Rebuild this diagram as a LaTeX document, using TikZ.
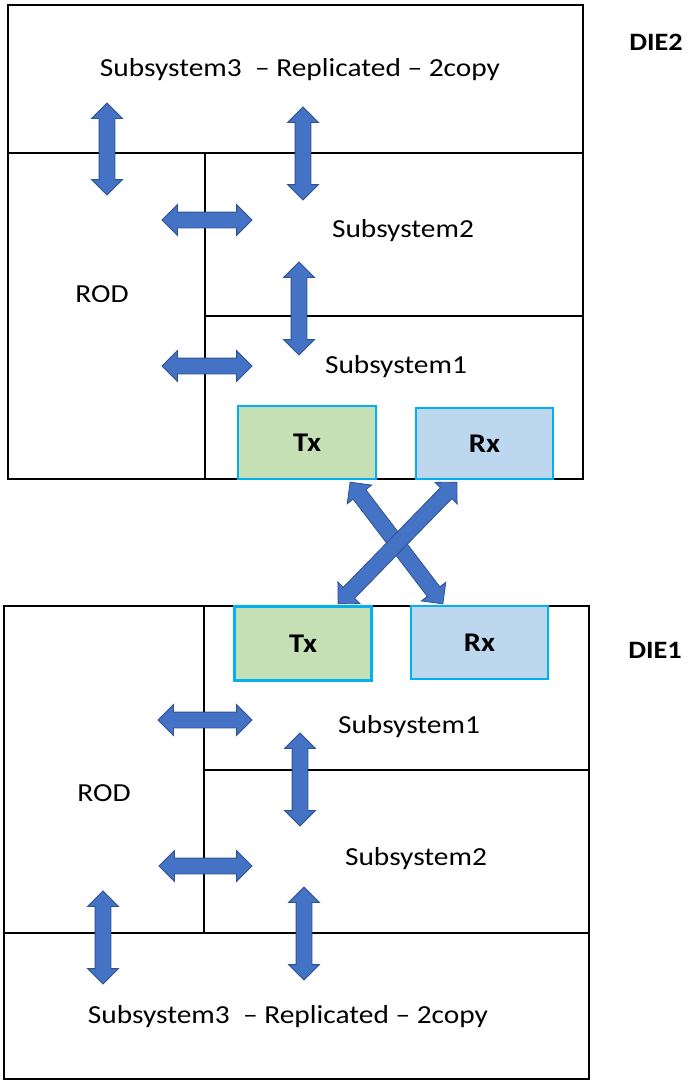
\documentclass[tikz,border=0pt]{standalone}
\usepackage{fontspec}
\setmainfont{Carlito}[FakeStretch=1.13]
\usepackage{tikz}
\usetikzlibrary{shapes.arrows}
\definecolor{arrowblue}{HTML}{4472C4}
\definecolor{arrowedge}{HTML}{2F528F}
\definecolor{txgreen}{HTML}{C5E0B4}
\definecolor{rxblue}{HTML}{BDD7EE}
\definecolor{portedge}{HTML}{00B0F0}

\begin{document}
\begin{tikzpicture}[x=1pt, y=-1pt, line width=2.2pt,
  lbl/.style={font=\fontsize{26}{30}\selectfont, anchor=base, inner sep=0pt},
  dielbl/.style={font=\bfseries\fontsize{25}{30}\selectfont, anchor=base, inner sep=0pt},
  port/.style={draw=portedge, line width=2.2pt, inner sep=0pt, font=\bfseries\fontsize{27}{30}\selectfont},
  dbl/.style={double arrow, draw=arrowedge, fill=arrowblue, line width=0.8pt, inner xsep=0pt, inner ysep=7.5pt, minimum width=30pt, double arrow head extend=7.5pt}]
\useasboundingbox (0,0) rectangle (692,1081);

% DIE2 (top)
\draw (8,5) rectangle (583,479);
\draw (8,153) -- (583,153);
\draw (205,153) -- (205,479);
\draw (205,316) -- (583,316);
\node[lbl] (ss3top) at (300,77) {Subsystem3\ \ -- Replicated -- 2copy};
\node[lbl] (ss2top) at (403,237) {Subsystem2};
\node[lbl] (ss1top) at (396,373) {Subsystem1};
\node[lbl] (rodtop) at (102,302) {ROD};
\node[dielbl] (die2) at (656,51) {DIE2};
\node[port, fill=txgreen, minimum width=138pt, minimum height=73pt] (tx2) at (307,442.5) {Tx};
\node[port, fill=rxblue, minimum width=137pt, minimum height=71pt] (rx2) at (484.5,443.5) {Rx};
\node[dbl, rotate=90, minimum height=92pt] (v2a) at (107,149) {};
\node[dbl, rotate=90, minimum height=93pt] (v2b) at (303,153.5) {};
\node[dbl, rotate=90, minimum height=93pt] (v2c) at (299,308.5) {};
\node[dbl, minimum height=90pt] (h2a) at (207,220) {};
\node[dbl, minimum height=90pt] (h2b) at (207,366) {};

% DIE1 (bottom)
\draw (4,606) rectangle (589,1079);
\draw (4,933) -- (589,933);
\draw (204,606) -- (204,933);
\draw (204,770) -- (589,770);
\node[lbl] (ss3bot) at (288,1023) {Subsystem3\ \ -- Replicated -- 2copy};
\node[lbl] (ss2bot) at (416,865) {Subsystem2};
\node[lbl] (ss1bot) at (409,733) {Subsystem1};
\node[lbl] (rodbot) at (104,801) {ROD};
\node[dielbl] (die1) at (655,658) {DIE1};
\node[port, fill=txgreen, minimum width=137pt, minimum height=74pt] (tx1) at (303,643.5) {Tx};
\node[port, fill=rxblue, minimum width=137pt, minimum height=73pt] (rx1) at (479.5,642.5) {Rx};
\node[dbl, minimum height=94pt] (h1a) at (205,720) {};
\node[dbl, rotate=90, minimum height=93pt] (v1a) at (300,779.5) {};
\node[dbl, minimum height=93pt] (h1b) at (205.5,866) {};
\node[dbl, rotate=90, minimum height=93pt] (v1b) at (103,937.5) {};
\node[dbl, rotate=90, minimum height=93pt] (v1c) at (304,933.5) {};

% link between the dies
\coordinate (xa1) at (350,482);
\coordinate (xa2) at (443,604);
\coordinate (xb1) at (457,482);
\coordinate (xb2) at (338,604);
\path (xa1) -- node[dbl, sloped, minimum height=153pt] (linka) {} (xa2);
\path (xb1) -- node[dbl, sloped, minimum height=170pt] (linkb) {} (xb2);
\end{tikzpicture}
\end{document}
